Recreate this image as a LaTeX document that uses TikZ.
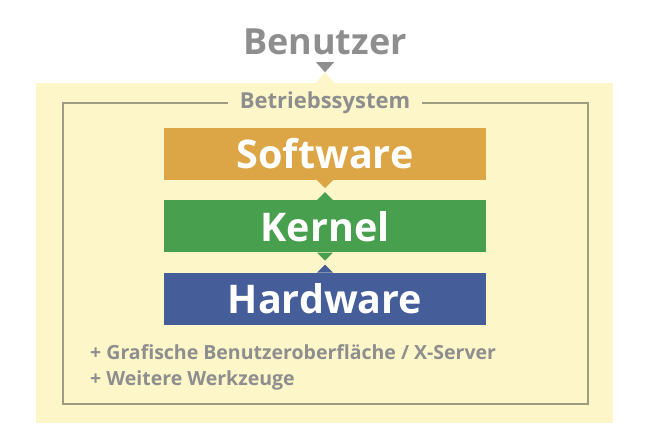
\documentclass[tikz,border=0pt]{standalone}
\usepackage{fontspec}
\setmainfont{Open Sans}
\usetikzlibrary{positioning}
\definecolor{textgray}{HTML}{8E8E8E}
\definecolor{sysyellow}{HTML}{FCF6C9}
\definecolor{framegray}{HTML}{9E9C80}
\definecolor{swOrange}{HTML}{DCA546}
\definecolor{krGreen}{HTML}{48A04E}
\definecolor{hwBlue}{HTML}{455D99}

\begin{document}
\begin{tikzpicture}[x=1pt, y=1pt,
    % Define the style for each block
    layer/.style={rectangle, fill=#1, text=white, font=\bfseries\fontsize{39.5}{39.5}\selectfont, minimum width=322pt, minimum height=52pt, inner sep=0pt},
    title/.style={text=textgray, font=\bfseries\fontsize{36}{36}\selectfont, inner sep=0pt},
    frametitle/.style={text=textgray, fill=sysyellow, font=\bfseries\fontsize{22}{22}\selectfont, inner xsep=12pt, inner ysep=2pt},
    note/.style={text=textgray, font=\bfseries\fontsize{19.5}{19.5}\selectfont, inner sep=0pt, anchor=base west},
    node distance=20pt
]
\useasboundingbox (0,0) rectangle (650,-446);

% Background and frame of the system
\fill [sysyellow] (36,-83) rectangle (613,-423);
\fill [sysyellow] (316,-83) -- (325,-72) -- (334,-83) -- cycle;
\draw [framegray, line width=2.4pt] (63,-103) rectangle (588,-404);

% Place nodes using explicit positioning
\node [title] (User) at (325,-42) {Benutzer};
\node [frametitle] (System) at (325,-103) {Betriebssystem};

\node [layer=swOrange] (Software) at (325,-154) {Software};
\node [layer=krGreen, below=of Software] (Kernel) {Kernel};
\node [layer=hwBlue, below=of Kernel] (Hardware) {Hardware};

\node [note] (Gui) at (90,-359) {+ Grafische Benutzeroberfläche / X-Server};
\node [note] (Tools) at ([yshift=-26pt]Gui.base west) {+ Weitere Werkzeuge};

% Draw connectors as small wedges
\fill [textgray] ([xshift=-9pt, yshift=-7pt]User.south) -- ([xshift=9pt, yshift=-7pt]User.south) -- ([yshift=-17pt]User.south) -- cycle;
\fill [swOrange] ([xshift=-8pt]Software.south) -- ([xshift=8pt]Software.south) -- ([yshift=-8pt]Software.south) -- cycle;
\fill [krGreen] ([xshift=-8pt]Kernel.north) -- ([xshift=8pt]Kernel.north) -- ([yshift=8pt]Kernel.north) -- cycle;
\fill [krGreen] ([xshift=-8pt]Kernel.south) -- ([xshift=8pt]Kernel.south) -- ([yshift=-8pt]Kernel.south) -- cycle;
\fill [hwBlue] ([xshift=-8pt]Hardware.north) -- ([xshift=8pt]Hardware.north) -- ([yshift=8pt]Hardware.north) -- cycle;
\end{tikzpicture}
\end{document}
